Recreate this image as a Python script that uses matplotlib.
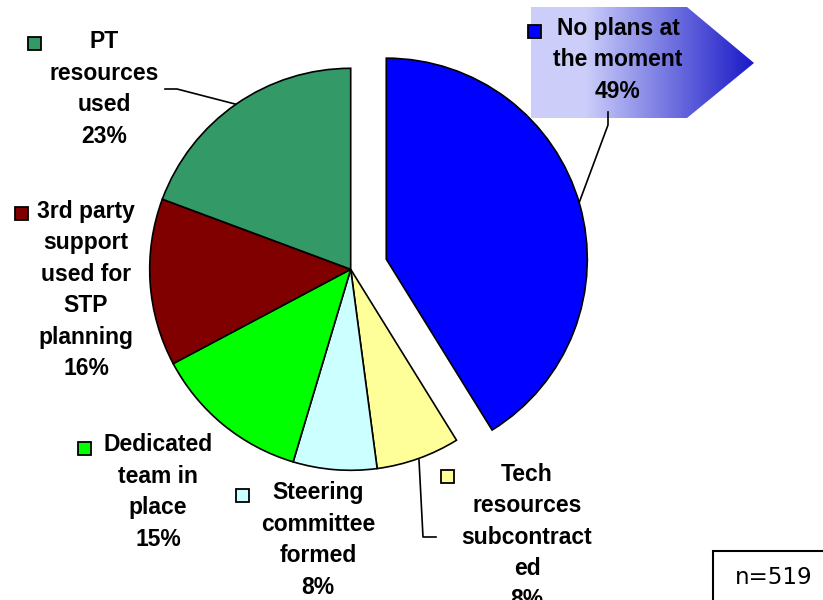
import numpy as np
import matplotlib.pyplot as plt
from matplotlib.patches import Rectangle, Polygon

W, H = 823, 600  # 픽셀 단위 캔버스

# ===== 데이터 =====
names = ["No plans at\nthe moment",
         "Tech\nresources\nsubcontract\ned",
         "Steering\ncommittee\nformed",
         "Dedicated\nteam in\nplace",
         "3rd party\nsupport\nused for\nSTP\nplanning",
         "PT\nresources\nused"]
values = [49, 8, 8, 15, 16, 23]
colors = ["#0000FF", "#FFFF99", "#CCFFFF", "#00FF00", "#800000", "#339966"]
explode = [37, 0, 0, 0, 0, 0]  # pie()는 explode를 절대 거리로 씀 (radius 곱하지 않음)
n_total = 519

# 라벨 위치 (픽셀, 위에서부터)
label_xy = [(618, 60), (527, 537), (318, 540), (158, 492), (86, 290), (104, 89)]
# 범례 사각형 위치
key_xy = [(535, 31), (448, 476), (243, 495), (85, 448), (22, 213), (35, 43)]


def py(y):
    return H - y


fig = plt.figure(figsize=(W / 100, H / 100), dpi=100)
ax = fig.add_axes([0, 0, 1, 1])

# ===== 그라데이션 화살표 박스 =====
box_pts = [(531, py(7)), (687, py(7)), (754, py(63)), (687, py(118)), (531, py(118))]
xs = np.linspace(531, 754, 300)
t = np.clip((xs - 585) / (754 - 585), 0, 1)
light = np.array([0.80, 0.81, 0.98])
dark = np.array([0.10, 0.10, 0.78])
grad = (light[None, :] * (1 - t[:, None]) + dark[None, :] * t[:, None])[None, :, :]
im = ax.imshow(grad, extent=[531, 754, py(118), py(7)], aspect='auto', zorder=0)
clip = Polygon(box_pts, closed=True, facecolor='none', edgecolor='none')
ax.add_patch(clip)
im.set_clip_path(clip)

# ===== 파이 =====
ax.pie(values, colors=colors, explode=explode, startangle=90, counterclock=False,
       center=(350.7, py(269.3)), radius=201, frame=True,
       wedgeprops=dict(edgecolor='black', linewidth=1.2))

# ===== 라벨 =====
for name, v, (lx, ly), (kx, ky), c in zip(names, values, label_xy, key_xy, colors):
    ax.text(lx, py(ly), f"{name}\n{v}%", ha='center', va='center',
            fontsize=16.5, fontweight='bold', family='Liberation Sans',
            linespacing=1.47, zorder=5)
    ax.add_patch(Rectangle((kx - 6.5, py(ky) - 6.5), 13, 13, facecolor=c,
                           edgecolor='black', linewidth=1.3, zorder=5))

# 지시선
ax.plot([608, 608, 579], [py(112), py(125), py(203)], color='black', lw=1.2, zorder=4)
ax.plot([419, 423, 436], [py(460), py(537), py(537)], color='black', lw=1.2, zorder=4)
ax.plot([165, 177, 235], [py(89), py(89), py(104)], color='black', lw=1.2, zorder=4)

# ===== n 박스 =====
ax.add_patch(Rectangle((713, py(640)), 150, 89, facecolor='white',
                       edgecolor='black', linewidth=1.5, zorder=5))
ax.text(774, py(577), f"n={n_total}", ha='center', va='center',
        fontsize=16.5, family='DejaVu Sans', zorder=6)

ax.set_xlim(0, W)
ax.set_ylim(0, H)
ax.set_aspect('auto')
ax.axis('off')

fig.savefig("out.png", dpi=100)
